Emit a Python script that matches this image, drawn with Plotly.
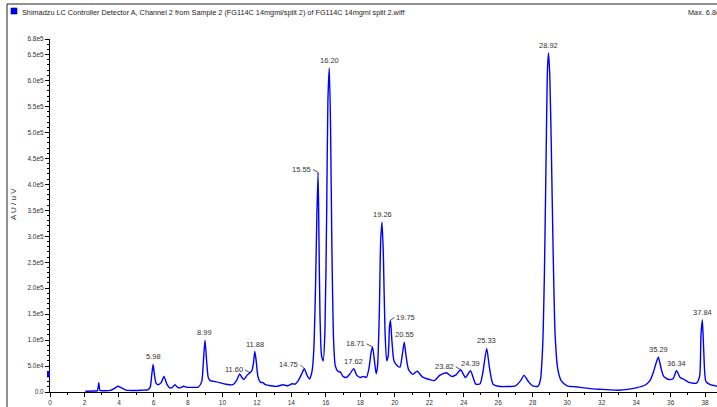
import plotly.graph_objects as go

# ---------------- data ----------------
times = [2.05, 2.6, 2.75, 2.83, 2.9, 3.1, 3.5, 3.75, 3.93, 4.15, 4.4, 4.8, 5.3, 5.7,
         5.82, 5.9, 5.98, 6.06, 6.15, 6.26, 6.45, 6.61, 6.78, 6.94,
         7.1, 7.25, 7.4, 7.55, 7.75, 7.95, 8.3, 8.6,
         8.8, 8.9, 8.99, 9.08, 9.18, 9.3, 9.6, 9.85, 10.2, 10.6,
         10.85, 11.0, 11.15, 11.25, 11.45, 11.6, 11.72,
         11.8, 11.88, 11.96, 12.06, 12.2, 12.35, 12.5, 12.8, 13.2, 13.5, 13.8, 14.05, 14.2,
         14.4, 14.6, 14.75, 14.9, 15.05,
         15.2, 15.3, 15.4, 15.48, 15.55, 15.6, 15.66, 15.75,
         15.85, 15.95, 16.05, 16.12, 16.20, 16.27, 16.35, 16.45, 16.55, 16.7, 16.85,
         17.0, 17.2, 17.4, 17.62, 17.8, 18.0, 18.2, 18.35, 18.5, 18.62, 18.71, 18.82,
         18.92, 19.0, 19.1, 19.18, 19.26, 19.34, 19.43, 19.53, 19.62, 19.69, 19.75,
         19.83, 19.95, 20.1, 20.3, 20.43, 20.55, 20.65, 20.8, 21.05, 21.3, 21.6, 22.0,
         22.3, 22.6, 22.85, 23.0, 23.3, 23.55, 23.82, 24.1, 24.39, 24.7, 24.95, 25.12,
         25.33, 25.5, 25.7, 26.0, 26.5, 27.0, 27.3, 27.5, 27.75, 28.0, 28.3,
         28.45, 28.58, 28.68, 28.78, 28.86, 28.92, 28.99, 29.08, 29.18, 29.3, 29.45, 29.65,
         30.0, 30.5, 31.0, 31.5, 32.0, 32.5, 33.0, 33.5, 34.0, 34.5, 34.8, 35.0, 35.15,
         35.29, 35.45, 35.6, 35.9, 36.15, 36.34, 36.55, 36.8, 37.1, 37.5, 37.68, 37.76,
         37.84, 37.92, 38.05, 38.3, 38.69]
signal = [1500, 1800, 2500, 18000, 3000, 2500, 3000, 7000, 11000, 8000, 3500, 3000, 3500, 4500,
          10000, 32000, 53000, 33000, 17000, 14000, 18000, 30000, 15000, 8000,
          9000, 14000, 9000, 8000, 11000, 9000, 9000, 9500,
          20000, 60000, 100000, 62000, 28000, 22000, 20000, 18000, 15000, 14000,
          24000, 35000, 27000, 24000, 33000, 37000, 42000,
          55000, 78000, 60000, 30000, 19000, 18000, 14000, 12000, 11000, 14000, 12000, 16000, 15000,
          22000, 35000, 45000, 33000, 25000,
          40000, 80000, 200000, 340000, 423000, 300000, 150000, 70000,
          60000, 120000, 350000, 560000, 624000, 520000, 280000, 100000, 50000, 40000, 38000,
          30000, 28000, 35000, 45000, 32000, 28000, 30000, 28000, 45000, 75000, 87000, 60000,
          35000, 50000, 150000, 290000, 327000, 260000, 120000, 60000, 70000, 125000, 138000,
          100000, 60000, 52000, 48000, 70000, 96000, 70000, 43000, 34000, 40000, 29000, 24000,
          22000, 32000, 36000, 37000, 30000, 33000, 43000, 28000, 41000, 15000, 16000, 40000,
          84000, 45000, 15000, 11000, 10500, 12000, 22000, 32000, 20000, 12000, 11000,
          24000, 90000, 230000, 460000, 625000, 653000, 610000, 470000, 280000, 110000, 45000, 22000,
          12000, 10000, 8000, 6000, 5000, 4000, 3500, 5000, 8000, 13000, 22000, 38000, 55000,
          67000, 45000, 30000, 24000, 26000, 41000, 28000, 24000, 18000, 17000, 30000, 110000,
          139000, 80000, 20000, 14000, 11000]

peak_labels = ["5.98", "8.99", "11.60", "11.88", "14.75", "15.55", "16.20", "17.62", "18.71",
               "19.26", "19.75", "20.55", "23.82", "24.39", "25.33", "28.92", "35.29", "36.34", "37.84"]
peak_heights = [53000, 100000, 37000, 78000, 45000, 423000, 624000, 45000, 87000,
                327000, 138000, 96000, 43000, 41000, 84000, 653000, 67000, 41000, 139000]
# labels drawn with a short leader line (offset of text from the apex, px)
leader = {"11.60": (-5, -3), "14.75": (-4, -4), "15.55": (-5, -3), "18.71": (-6, -3),
          "19.75": (4, -3), "23.82": (-5, -3)}

y_tick_vals = [0, 50000, 100000, 150000, 200000, 250000, 300000, 350000, 400000,
               450000, 500000, 550000, 600000, 650000, 680000]
y_tick_text = ["0.0", "5.0e4", "1.0e5", "1.5e5", "2.0e5", "2.5e5", "3.0e5", "3.5e5", "4.0e5",
               "4.5e5", "5.0e5", "5.5e5", "6.0e5", "6.5e5", "6.8e5"]

title_text = "Shimadzu LC Controller Detector A, Channel 2 from Sample 2 (FG114C 14mgml/split 2) of FG114C 14mgml split 2.wiff"
max_text = "Max. 6.8e5 uV."

# ---------------- layout geometry ----------------
W, H = 717, 407
L, R, T, B = 50, 0, 39, 15
XMAX = 38.69
YMAX = 680000
FONT = "Liberation Sans, Arial, sans-serif"


def px(xp):
    return (xp - L) / (W - L - R)


def py(yp):
    return (H - B - yp) / (H - T - B)


fig = go.Figure()
fig.add_trace(go.Scatter(x=times, y=signal, mode="lines",
                         line=dict(color="#0000FF", width=1.4, shape="spline", smoothing=0.6),
                         hoverinfo="skip", showlegend=False))

annotations = []
for lab, h in zip(peak_labels, peak_heights):
    t = float(lab)
    if lab in leader:
        ax, ay = leader[lab]
        annotations.append(dict(x=t, y=h, xref="x", yref="y", text=lab, showarrow=True,
                                arrowhead=0, arrowwidth=0.8, arrowcolor="#222", ax=ax, ay=ay,
                                xanchor="right" if ax < 0 else "left", yanchor="middle",
                                font=dict(family=FONT, size=7.5, color="#333")))
    else:
        annotations.append(dict(x=t, y=h, xref="x", yref="y", text=lab, showarrow=False,
                                yanchor="bottom", yshift=1,
                                font=dict(family=FONT, size=7.5, color="#333")))

annotations.append(dict(x=px(20), y=py(12), xref="paper", yref="paper", text=title_text,
                        showarrow=False, xanchor="left", yanchor="middle",
                        font=dict(family=FONT, size=7.3, color="#222")))
annotations.append(dict(x=px(686), y=py(12), xref="paper", yref="paper", text=max_text,
                        showarrow=False, xanchor="left", yanchor="middle",
                        font=dict(family=FONT, size=7.3, color="#222")))
annotations.append(dict(x=px(13), y=py(204), xref="paper", yref="paper", text="A U / u V",
                        showarrow=False, textangle=-90, xanchor="center", yanchor="middle",
                        font=dict(family=FONT, size=8, color="#333")))
annotations.append(dict(x=px(386), y=py(404), xref="paper", yref="paper", text="Time, min",
                        showarrow=False, xanchor="center", yanchor="top",
                        font=dict(family=FONT, size=7.5, color="#333")))

shapes = [
    dict(type="line", xref="paper", yref="paper", x0=px(7), x1=px(717), y0=py(4), y1=py(4),
         line=dict(color="#222", width=1)),
    dict(type="line", xref="paper", yref="paper", x0=px(7), x1=px(7), y0=py(4), y1=py(407),
         line=dict(color="#222", width=1)),
    dict(type="rect", xref="paper", yref="paper", x0=px(11), x1=px(17), y0=py(8), y1=py(14),
         fillcolor="#0000FF", line=dict(color="#000066", width=0.6)),
    dict(type="rect", xref="paper", yref="y", x0=px(47), x1=px(50), y0=28000, y1=40000,
         fillcolor="#0000FF", line=dict(width=0)),
]

fig.update_layout(
    width=W, height=H, margin=dict(l=L, r=R, t=T, b=B),
    paper_bgcolor="white", plot_bgcolor="white",
    annotations=annotations, shapes=shapes,
    xaxis=dict(range=[0, XMAX], showline=True, linecolor="black", linewidth=1,
               ticks="outside", ticklen=4, tickcolor="black", tickwidth=1,
               tick0=0, dtick=2, showgrid=False, zeroline=False,
               tickfont=dict(family=FONT, size=6.5, color="#333"),
               minor=dict(ticks="outside", ticklen=2, dtick=1, tickcolor="black", showgrid=False)),
    yaxis=dict(range=[0, YMAX], showline=True, linecolor="black", linewidth=1,
               ticks="outside", ticklen=4, tickcolor="black", tickwidth=1,
               tickvals=y_tick_vals, ticktext=y_tick_text, showgrid=False, zeroline=False,
               tickfont=dict(family=FONT, size=6.5, color="#333"),
               minor=dict(ticks="outside", ticklen=2, dtick=10000, tickcolor="black", showgrid=False)),
)

fig.write_html("out.html", config={"displayModeBar": False},
               post_script="document.body.style.margin='0px';document.body.style.overflow='hidden';")
